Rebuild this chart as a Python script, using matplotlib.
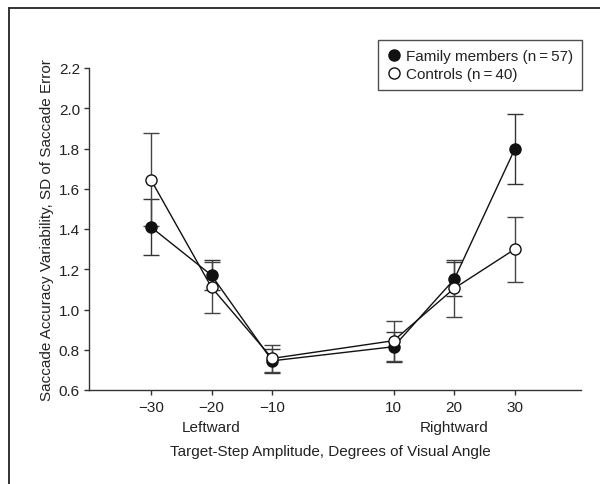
import matplotlib
matplotlib.use("Agg")
import matplotlib.pyplot as plt
from matplotlib.lines import Line2D

plt.rcParams['font.family'] = ['Liberation Sans Narrow', 'Liberation Sans', 'DejaVu Sans']

amplitudes = [-30, -20, -10, 10, 20, 30]
family_mean = [1.41, 1.17, 0.745, 0.815, 1.15, 1.798]
family_err = [0.14, 0.075, 0.06, 0.075, 0.085, 0.174]
control_mean = [1.645, 1.11, 0.757, 0.845, 1.105, 1.30]
control_err = [0.232, 0.125, 0.068, 0.10, 0.14, 0.161]
yticks = [0.6, 0.8, 1.0, 1.2, 1.4, 1.6, 1.8, 2.0, 2.2]
family_label = "Family members (n\u2009=\u200957)"
control_label = "Controls (n\u2009=\u200940)"

txt = '#222222'
fig = plt.figure(figsize=(6.0, 4.85), dpi=100)
ax = fig.add_axes([89/600, 1-391/485, 492/600, 322/485])

# frame around figure
fig.add_artist(Line2D([9/600, 1.0], [1-9/485, 1-9/485], transform=fig.transFigure, color='#333333', lw=1.4))
fig.add_artist(Line2D([9/600, 9/600], [0.0, 1-9/485], transform=fig.transFigure, color='#333333', lw=1.4))

ax.errorbar(amplitudes, family_mean, yerr=family_err, fmt='none', ecolor='#333333',
            elinewidth=1.0, capsize=6, capthick=1.0, zorder=2)
ax.errorbar(amplitudes, control_mean, yerr=control_err, fmt='none', ecolor='#444444',
            elinewidth=1.0, capsize=6, capthick=1.0, zorder=2)
ax.plot(amplitudes, family_mean, color='#111111', lw=1.0, marker='o', markersize=8,
        markerfacecolor='#111111', markeredgecolor='#111111', zorder=3, label=family_label)
ax.plot(amplitudes, control_mean, color='#111111', lw=1.0, marker='o', markersize=8,
        markerfacecolor='white', markeredgecolor='#111111', markeredgewidth=1.0, zorder=4,
        label=control_label)

ax.set_xlim(-40.2, 40.9)
ax.set_ylim(0.6, 2.2)
ax.set_xticks(amplitudes)
ax.set_xticklabels(['\u221230', '\u221220', '\u221210', '10', '20', '30'])
ax.set_yticks(yticks)
ax.set_yticklabels([f'{v:.1f}' for v in yticks])
for s in ['top', 'right']:
    ax.spines[s].set_visible(False)
for s in ['left', 'bottom']:
    ax.spines[s].set_color('#333333')
    ax.spines[s].set_linewidth(1.0)
ax.tick_params(direction='out', length=3.5, width=1.0, colors='#333333', labelcolor=txt,
               labelsize=11, pad=3)
ax.tick_params(axis='x', pad=4)

tr = ax.get_xaxis_transform()
ax.text(-20, -0.115, 'Leftward', transform=tr, ha='center', va='center', fontsize=11, color=txt)
ax.text(20, -0.115, 'Rightward', transform=tr, ha='center', va='center', fontsize=11, color=txt)
ax.text(0.49, -0.189, 'Target-Step Amplitude, Degrees of Visual Angle', transform=ax.transAxes,
        ha='center', va='center', fontsize=11, color=txt)
ax.text(-0.085, 0.5, 'Saccade Accuracy Variability, SD of Saccade Error', transform=ax.transAxes,
        ha='center', va='center', rotation=90, fontsize=11, color=txt)

leg = fig.legend(loc='upper right', bbox_to_anchor=(582/600, 1-41/485), frameon=True,
                 fancybox=False, edgecolor='#222222', fontsize=11, handlelength=0.9,
                 handletextpad=0.3, borderpad=0.6, labelspacing=0.25, borderaxespad=0)
leg.get_frame().set_linewidth(1.0)
for h in leg.legend_handles:
    h.set_linestyle('none')
for t in leg.get_texts():
    t.set_color(txt)

fig.savefig('out.png', dpi=100)
